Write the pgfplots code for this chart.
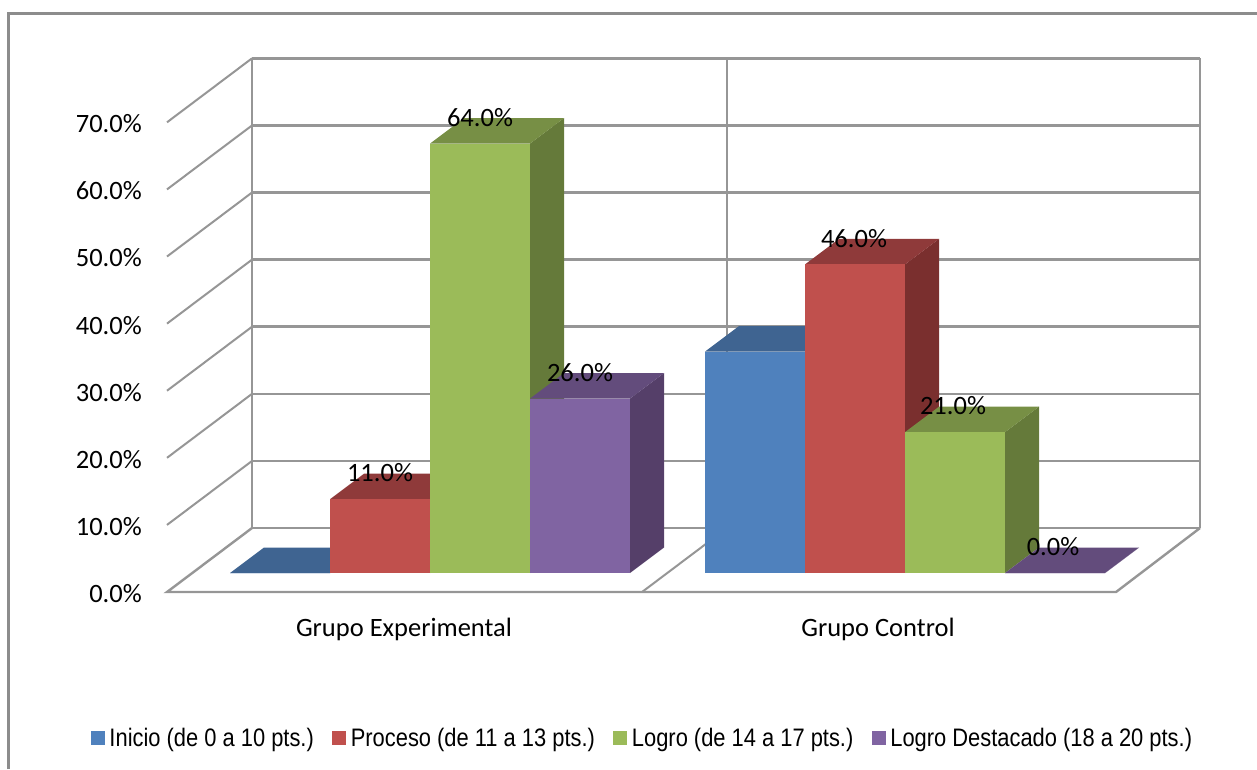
\documentclass[border=0pt]{standalone}
\usepackage{fontspec}
\setmainfont{Carlito}
\newfontfamily\legfont[FakeStretch=0.865]{Liberation Sans}
\usepackage{pgfplots}
\pgfplotsset{compat=1.18}
\definecolor{gridc}{HTML}{969696}
\definecolor{framec}{HTML}{8C8C8C}
\definecolor{blueF}{HTML}{4F81BD}\definecolor{blueT}{HTML}{3F6491}\definecolor{blueS}{HTML}{375A82}
\definecolor{redF}{HTML}{C0504D}\definecolor{redT}{HTML}{8F3A3A}\definecolor{redS}{HTML}{7A2F2E}
\definecolor{greenF}{HTML}{9BBB59}\definecolor{greenT}{HTML}{778F45}\definecolor{greenS}{HTML}{657A3A}
\definecolor{purpleF}{HTML}{8064A2}\definecolor{purpleT}{HTML}{634C7C}\definecolor{purpleS}{HTML}{553F69}
% one column: #1 left edge (px), #2 value (percent), #3 colour stem
\newcommand{\column}[3]{%
  \pgfmathsetmacro{\xr}{#1+100}%
  \pgfmathsetmacro{\xa}{#1+34}%
  \pgfmathsetmacro{\xb}{#1+134}%
  \pgfmathsetmacro{\yb}{#2+3.8}%
  \addplot[forget plot,draw=none,fill=#3S] coordinates {(\xr,0) (\xb,3.8) (\xb,\yb) (\xr,#2)} --cycle;
  \addplot[forget plot,draw=none,fill=#3T] coordinates {(#1,#2) (\xa,\yb) (\xb,\yb) (\xr,#2)} --cycle;
  \addplot[forget plot,draw=none,fill=#3F] coordinates {(#1,0) (\xr,0) (\xr,#2) (#1,#2)} --cycle;
}
\begin{document}
\begin{tikzpicture}
\begin{axis}[
  x=1pt,y=6.71pt,
  xmin=167,xmax=1200,ymin=-2.83,ymax=76.706,
  clip=false,
  axis line style={draw=none},
  major tick length=0pt,
  tick style={draw=none},
  font=\fontsize{26.5}{30}\selectfont,
  xtick={404,878},
  xticklabels={Grupo Experimental,Grupo Control},
  xticklabel style={anchor=center,yshift=-37pt},
  ytick={-2.83,7.17,17.17,27.17,37.17,47.17,57.17,67.17},
  yticklabels={0.0\%,10.0\%,20.0\%,30.0\%,40.0\%,50.0\%,60.0\%,70.0\%},
  yticklabel style={anchor=east,inner sep=0pt,xshift=-25pt,yshift=-1.5pt},
  legend columns=4,
  legend style={at={(axis cs:91,-24.6)},anchor=west,draw=none,fill=none,inner sep=0pt,outer sep=0pt,
    font=\legfont\fontsize{25.3}{28}\selectfont,
    nodes={inner sep=0pt},
    /tikz/every even column/.style={column sep=18.5pt},
    /tikz/every odd column/.style={column sep=4.5pt}},
  legend image code/.code={\fill[#1] (0pt,-7pt) rectangle (14pt,7pt);},
]
\coordinate (pageA) at (axis cs:0,-29.21);
\coordinate (pageB) at (axis cs:1257,85.4);
% chart frame
\addplot[forget plot,framec,line width=2.4pt] coordinates {(8.5,-29.21) (8.5,83.38) (1257,83.38)};
% back wall rows
\addplot[forget plot,gridc,line width=2.6pt] coordinates {(252,6.706) (1200,6.706)};
\addplot[forget plot,gridc,line width=2.6pt] coordinates {(252,16.706) (1200,16.706)};
\addplot[forget plot,gridc,line width=2.6pt] coordinates {(252,26.706) (1200,26.706)};
\addplot[forget plot,gridc,line width=2.6pt] coordinates {(252,36.706) (1200,36.706)};
\addplot[forget plot,gridc,line width=2.6pt] coordinates {(252,46.706) (1200,46.706)};
\addplot[forget plot,gridc,line width=2.6pt] coordinates {(252,56.706) (1200,56.706)};
\addplot[forget plot,gridc,line width=2.6pt] coordinates {(252,66.706) (1200,66.706)};
\addplot[forget plot,gridc,line width=2.6pt] coordinates {(252,76.706) (1200,76.706)};
% verticals
\addplot[forget plot,gridc,line width=2.6pt] coordinates {(252,6.706) (252,76.706)};
\addplot[forget plot,gridc,line width=2.6pt] coordinates {(727,6.706) (727,76.706)};
\addplot[forget plot,gridc,line width=2.6pt] coordinates {(1200,6.706) (1200,76.706)};
% side diagonals
\addplot[forget plot,gridc,line width=2pt] coordinates {(167,7.17) (252,16.706)};
\addplot[forget plot,gridc,line width=2pt] coordinates {(167,17.17) (252,26.706)};
\addplot[forget plot,gridc,line width=2pt] coordinates {(167,27.17) (252,36.706)};
\addplot[forget plot,gridc,line width=2pt] coordinates {(167,37.17) (252,46.706)};
\addplot[forget plot,gridc,line width=2pt] coordinates {(167,47.17) (252,56.706)};
\addplot[forget plot,gridc,line width=2pt] coordinates {(167,57.17) (252,66.706)};
\addplot[forget plot,gridc,line width=2pt] coordinates {(167,67.17) (252,76.706)};
% floor
\addplot[forget plot,gridc,line width=2.4pt] coordinates {(252,6.706) (167,-2.83) (1116,-2.83) (1200,6.706)};
\addplot[forget plot,gridc,line width=2pt] coordinates {(642,-2.83) (727,6.706)};
% columns
\column{230}{0}{blue}
\column{330}{11}{red}
\column{430}{64}{green}
\column{530}{26}{purple}
\column{705}{33}{blue}
\column{805}{46}{red}
\column{905}{21}{green}
\column{1005}{0}{purple}
% value labels
\addplot[forget plot,draw=none,mark=none,point meta=explicit,
  nodes near coords={\pgfmathprintnumber[fixed,fixed zerofill,precision=1,assume math mode=true]{\pgfplotspointmeta}\%},
  nodes near coords style={anchor=center,inner sep=0pt,text=black}]
  coordinates {(380,14.9)[11] (480,67.85)[64] (580,29.9)[26] (854,49.9)[46] (953,24.9)[21] (1053,3.9)[0]};
\addlegendimage{draw=none,fill=blueF}\addlegendentry{Inicio (de 0 a 10 pts.)}
\addlegendimage{draw=none,fill=redF}\addlegendentry{Proceso (de 11 a 13 pts.)}
\addlegendimage{draw=none,fill=greenF}\addlegendentry{Logro (de 14 a 17 pts.)}
\addlegendimage{draw=none,fill=purpleF}\addlegendentry{Logro Destacado (18 a 20 pts.)}
\end{axis}
\pgfresetboundingbox
\path[use as bounding box] (pageA) rectangle (pageB);
\end{tikzpicture}
\end{document}
